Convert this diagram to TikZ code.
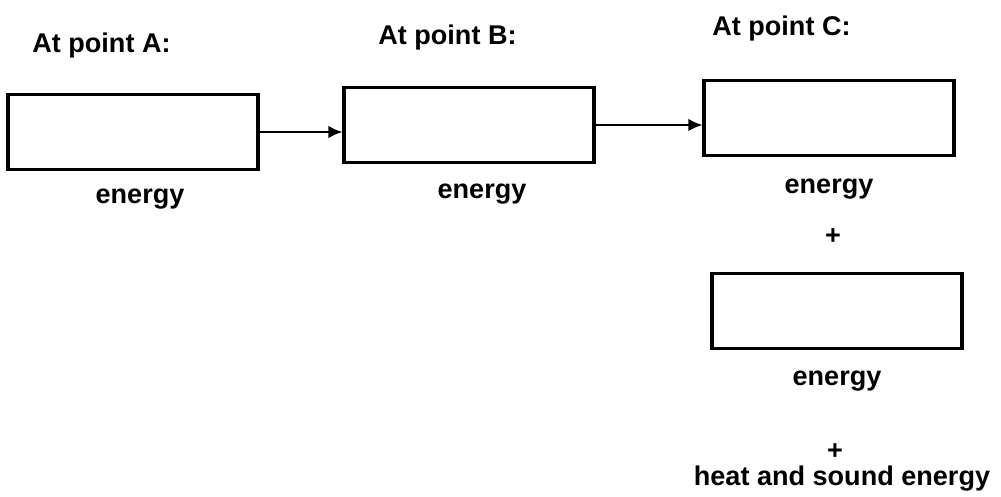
\documentclass[tikz,border=0pt]{standalone}
\usepackage{fontspec}
\setmainfont{Liberation Sans}
\usetikzlibrary{arrows.meta}
\begin{document}
\begin{tikzpicture}[
        x=0.02cm,
        y=-0.02cm,
        every node/.style={font=\fontsize{15.4}{18}\selectfont\bfseries},
        box/.style={draw, line width=1.8pt, minimum width=5cm, minimum height=1.5cm, inner sep=0pt},
        txt/.style={anchor=base, inner sep=0pt},
        flow/.style={draw, line width=1.1pt, -{Latex[length=2.8mm,width=2.5mm]}}
    ]
    \useasboundingbox (0,0) rectangle (1001,497);
    % headings
    \node[txt, anchor=base west] (lblA) at (32,52) {At point A:};
    \node[txt, anchor=base west] (lblB) at (378,44) {At point B:};
    \node[txt, anchor=base west] (lblC) at (712,35) {At point C:};
    % empty boxes
    \node[box] (boxA) at (133,132) {};
    \node[box] (boxB) at (469,125) {};
    \node[box] (boxC) at (829,118) {};
    \node[box] (boxD) at (837,311) {};
    % texts under the boxes
    \node[txt] (enA) at (140,203) {energy};
    \node[txt] (enB) at (482,198) {energy};
    \node[txt] (enC) at (829,193) {energy};
    \node[txt] (plus1) at (833,244) {+};
    \node[txt] (enD) at (837,385) {energy};
    \node[txt] (plus2) at (835,459) {+};
    \node[txt] (heat) at (842,485) {heat and sound energy};
    % arrows
    \draw[flow] (boxA.east) -- (boxA.east -| boxB.west);
    \draw[flow] (boxB.east) -- (boxB.east -| boxC.west);
\end{tikzpicture}
\end{document}
